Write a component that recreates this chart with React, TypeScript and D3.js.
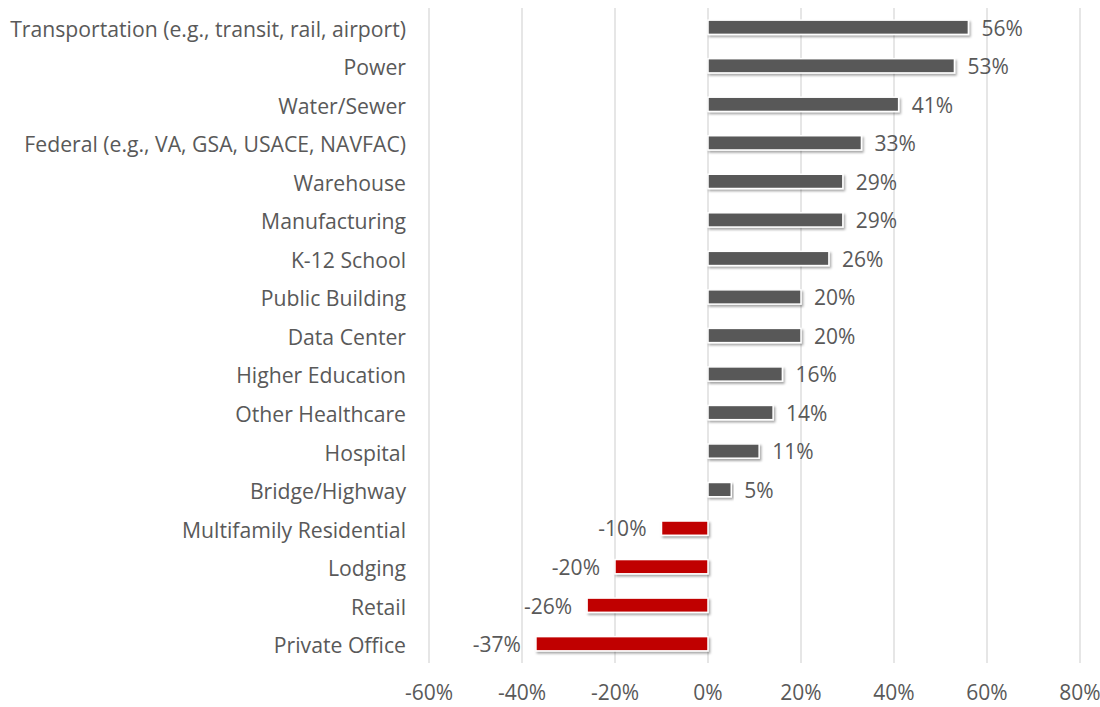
import React from "react";
import * as d3 from "d3";

const categories = [
  "Transportation (e.g., transit, rail, airport)",
  "Power",
  "Water/Sewer",
  "Federal (e.g., VA, GSA, USACE, NAVFAC)",
  "Warehouse",
  "Manufacturing",
  "K-12 School",
  "Public Building",
  "Data Center",
  "Higher Education",
  "Other Healthcare",
  "Hospital",
  "Bridge/Highway",
  "Multifamily Residential",
  "Lodging",
  "Retail",
  "Private Office",
];
const values = [0.56, 0.53, 0.41, 0.33, 0.29, 0.29, 0.26, 0.2, 0.2, 0.16, 0.14, 0.11, 0.05, -0.1, -0.2, -0.26, -0.37];
const ticks = [-0.6, -0.4, -0.2, 0, 0.2, 0.4, 0.6, 0.8];

export default function App() {
  const W = 1100, H = 707;
  const left = 429, right = 1080, top = 8, bottom = 663;
  const x = d3.scaleLinear().domain([-0.6, 0.8]).range([left, right]);
  const y = d3.scaleBand().domain(categories).range([top, bottom]).paddingInner(0.63).paddingOuter(0.315);
  const font = "'Open Sans', sans-serif";
  const txt = "#595959";
  const fmt = (v: number) => `${Math.round(v * 100)}%`;
  return (
    <svg width={W} height={H} style={{ position: "absolute", left: 0, top: 0 }}>
      <defs>
        <filter id="sh" x="-10%" y="-50%" width="120%" height="200%">
          <feDropShadow dx="1.5" dy="2" stdDeviation="1.2" floodColor="#000" floodOpacity="0.35" />
        </filter>
      </defs>
      <rect width={W} height={H} fill="#fff" />
      {ticks.map((t) => (
        <line key={t} x1={x(t)} x2={x(t)} y1={top} y2={bottom} stroke="#d9d9d9" strokeWidth={1.3} />
      ))}
      {categories.map((c, i) => {
        const v = values[i];
        const x0 = x(Math.min(0, v));
        const w = Math.abs(x(v) - x(0));
        const yy = y(c)!;
        const bh = y.bandwidth();
        const cy = yy + bh / 2;
        return (
          <g key={c}>
            <rect x={x0} y={yy} width={w} height={bh} fill={v < 0 ? "#C00000" : "#595959"} stroke="#fff" strokeWidth={1.5} filter="url(#sh)" />
            <text x={v >= 0 ? x(v) + 13 : x(v) - 15} y={cy + 1} dy="0.35em" textAnchor={v >= 0 ? "start" : "end"} fontFamily={font} fontSize={21} fill={txt}>
              {fmt(v)}
            </text>
            <text x={406} y={cy + 2} dy="0.35em" textAnchor="end" fontFamily={font} fontSize={21.2} fill={txt}>
              {c}
            </text>
          </g>
        );
      })}
      {ticks.map((t) => (
        <text key={t} x={x(t)} y={693} dy="0.35em" textAnchor="middle" fontFamily={font} fontSize={21} fill={txt}>
          {fmt(t)}
        </text>
      ))}
    </svg>
  );
}
